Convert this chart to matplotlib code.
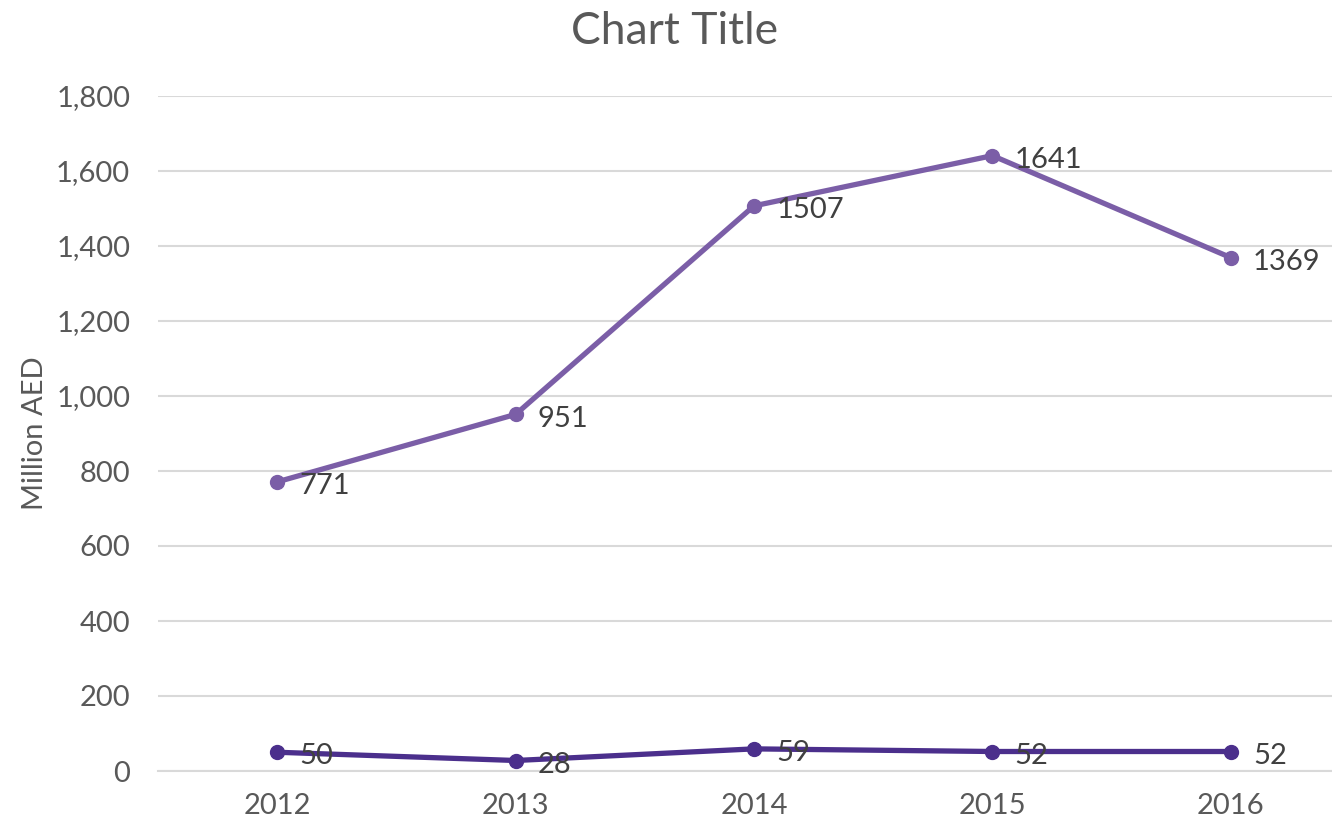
import matplotlib.pyplot as plt
from matplotlib.ticker import FuncFormatter

years = ['2012', '2013', '2014', '2015', '2016']
upper = [771, 951, 1507, 1641, 1369]
lower = [50, 28, 59, 52, 52]

plt.rcParams['font.family'] = ['Lato', 'DejaVu Sans']
txt = '#595959'

fig = plt.figure(figsize=(13.32, 8.25), dpi=100)
ax = fig.add_axes([158 / 1332, 54 / 825, 1192 / 1332, 675 / 825])

x = list(range(len(years)))
ax.plot(x, upper, color='#7B5EA7', lw=3.8, marker='o', ms=10, zorder=3)
ax.plot(x, lower, color='#4B2F8C', lw=3.8, marker='o', ms=10, zorder=3)

for xs, ys in [(x, upper), (x, lower)]:
    for xi, yi in zip(xs, ys):
        ax.annotate(str(yi), (xi, yi), xytext=(16, -3), textcoords='offset points',
                    ha='left', va='center', fontsize=21, color='#404040', zorder=4)

ax.set_xlim(-0.5, len(years) - 0.5)
ax.set_ylim(0, 1800)
ax.set_yticks(range(0, 1801, 200))
ax.yaxis.set_major_formatter(FuncFormatter(lambda v, p: f'{int(v):,}'))
ax.set_xticks(x)
ax.set_xticklabels(years)
ax.grid(axis='y', color='#D9D9D9', lw=1.5, zorder=0)
for s in ['top', 'right', 'left']:
    ax.spines[s].set_visible(False)
ax.spines['bottom'].set_color('#D9D9D9')
ax.spines['bottom'].set_linewidth(1.5)
ax.tick_params(axis='both', length=0, labelsize=21, labelcolor=txt)
ax.tick_params(axis='y', pad=20)
ax.tick_params(axis='x', pad=16)
ax.set_ylabel('Million AED', fontsize=21, color=txt, labelpad=6)
fig.text(675 / 1332, 1 - 32 / 825, 'Chart Title', ha='center', va='center',
         fontsize=32, color=txt)

fig.savefig('out.png', dpi=100)
